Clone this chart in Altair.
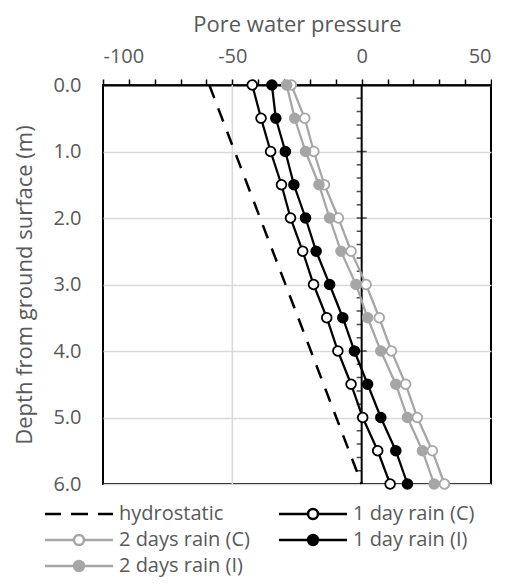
import altair as alt
import pandas as pd

# ---------------- data ----------------
depths = [0.0, 0.5, 1.0, 1.5, 2.0, 2.5, 3.0, 3.5, 4.0, 4.5, 5.0, 5.5, 6.0]
one_day_c = [-42.3, -38.9, -35.2, -31.0, -27.5, -22.8, -18.6, -13.5, -9.2, -4.1, 0.4, 6.2, 11.0]
one_day_i = [-34.7, -33.2, -29.5, -26.2, -21.7, -17.6, -12.4, -7.3, -2.8, 2.3, 7.4, 13.2, 17.7]
two_days_c = [-27.2, -22.0, -18.5, -14.4, -9.0, -4.1, 1.7, 6.8, 11.5, 17.0, 21.5, 27.3, 32.0]
two_days_i = [-29.0, -25.9, -21.7, -16.5, -12.4, -8.0, -2.2, 2.3, 7.4, 13.2, 17.7, 23.5, 28.0]
hydro_depths = [0.0, 6.0]
hydrostatic = [-58.9, 0.0]

# legend order (legend fills column by column)
series_names = ["hydrostatic", "2 days rain (C)", "2 days rain (I)", "1 day rain (C)", "1 day rain (I)"]
x_ticks = [-100, -90, -80, -70, -60, -50, -40, -30, -20, -10, 0, 10, 20, 30, 40, 50]
y_ticks = [0, 1, 2, 3, 4, 5, 6]
x_grid = [-50]
zero_line = [0]
zero_minor = [0.2, 0.4, 0.6, 0.8, 1.2, 1.4, 1.6, 1.8, 2.2, 2.4, 2.6, 2.8, 3.2, 3.4, 3.6, 3.8,
              4.2, 4.4, 4.6, 4.8, 5.2, 5.4, 5.6, 5.8]
zero_major = [1, 2, 3, 4, 5]

BLACK = "#000000"
GRAY = "#a6a6a6"
TXT = "#595959"
FONT = "Open Sans"

rows = []
for name, vals in [("1 day rain (C)", one_day_c), ("1 day rain (I)", one_day_i),
                   ("2 days rain (C)", two_days_c), ("2 days rain (I)", two_days_i)]:
    for d, v in zip(depths, vals):
        rows.append({"series": name, "depth": d, "pwp": v})
for d, v in zip(hydro_depths, hydrostatic):
    rows.append({"series": "hydrostatic", "depth": d, "pwp": v})
df = pd.DataFrame(rows)

# ---------------- encodings ----------------
X = alt.X("pwp:Q",
          scale=alt.Scale(domain=[-100, 50], nice=False, zero=False),
          axis=alt.Axis(orient="top", values=x_ticks,
                        labelExpr="datum.value % 50 === 0 ? '' + datum.value : ''",
                        title="Pore water pressure", grid=False,
                        domainColor=BLACK, domainWidth=2,
                        tickColor=BLACK, tickWidth=1.5, tickSize=6,
                        labelPadding=13, titlePadding=10,
                        labelFont=FONT, labelFontSize=20, labelColor=TXT,
                        titleFont=FONT, titleFontSize=22, titleColor=TXT,
                        titleFontWeight="normal"))
Y = alt.Y("depth:Q",
          scale=alt.Scale(domain=[0, 6], reverse=True, nice=False, zero=False),
          axis=alt.Axis(values=y_ticks, format=".1f",
                        title="Depth from ground surface (m)",
                        grid=True, gridColor="#d9d9d9", gridWidth=1.5,
                        ticks=False, domain=False, labelPadding=22, titlePadding=16,
                        labelFont=FONT, labelFontSize=20, labelColor=TXT,
                        titleFont=FONT, titleFontSize=22, titleColor=TXT,
                        titleFontWeight="normal"))

layers = []

# vertical gridline
layers.append(alt.Chart(pd.DataFrame({"pwp": x_grid})).mark_rule(
    color="#d9d9d9", strokeWidth=1.5).encode(x=X))

# zero "axis" line with ticks
layers.append(alt.Chart(pd.DataFrame({"pwp": zero_line})).mark_rule(
    color=BLACK, strokeWidth=2).encode(x=X))
layers.append(alt.Chart(pd.DataFrame({"depth": zero_minor, "pwp": [0] * len(zero_minor)})).mark_tick(
    orient="horizontal", color=BLACK, size=5, thickness=1.5, xOffset=-2.5).encode(x=X, y=Y))
layers.append(alt.Chart(pd.DataFrame({"depth": zero_major, "pwp": [0] * len(zero_major)})).mark_tick(
    orient="horizontal", color=BLACK, size=10, thickness=1.5).encode(x=X, y=Y))

# hydrostatic
layers.append(alt.Chart(df).transform_filter(alt.datum.series == "hydrostatic").mark_line(
    color=BLACK, strokeWidth=2.5, strokeDash=[14, 11]).encode(x=X, y=Y, order="depth:Q"))

styles = [("2 days rain (C)", GRAY, "white"),
          ("2 days rain (I)", GRAY, GRAY),
          ("1 day rain (C)", BLACK, "white"),
          ("1 day rain (I)", BLACK, BLACK)]
for name, stroke, fill in styles:
    sub = alt.Chart(df).transform_filter(alt.datum.series == name)
    layers.append(sub.mark_line(color=stroke, strokeWidth=2.25).encode(x=X, y=Y, order="depth:Q"))
    layers.append(sub.mark_point(filled=True, fill=fill, stroke=stroke, strokeWidth=1.8,
                                 size=95, opacity=1, shape="circle").encode(x=X, y=Y))

# legend (custom symbols: line + marker)
dash_path = "M-5.67,0H-3M-1.33,0H1.5M3.17,0H5.67"
marker_path = ("M-5.67,0H-0.83M0.83,0H5.67"
               "M-0.83,0A0.83,0.83 0 1,1 0.83,0A0.83,0.83 0 1,1 -0.83,0Z")
leg_shapes = [dash_path, marker_path, marker_path, marker_path, marker_path]
leg_strokes = [BLACK, GRAY, GRAY, BLACK, BLACK]
leg_fills = ["white", "white", GRAY, "white", BLACK]

legend = alt.Legend(orient="none", legendX=-34, legendY=419, columns=2,
                    columnPadding=23, rowPadding=6, symbolSize=144,
                    symbolStrokeWidth=2.5, symbolOpacity=1, labelOffset=30, title=None, padding=0,
                    labelFont=FONT, labelFontSize=20, labelColor=TXT, labelLimit=400)

layers.append(alt.Chart(df).transform_filter("datum.depth < -1").mark_point(
    filled=True, strokeWidth=2.5, opacity=1).encode(
    x=X, y=Y,
    shape=alt.Shape("series:N", scale=alt.Scale(domain=series_names, range=leg_shapes), legend=legend),
    stroke=alt.Stroke("series:N", scale=alt.Scale(domain=series_names, range=leg_strokes), legend=legend),
    fill=alt.Fill("series:N", scale=alt.Scale(domain=series_names, range=leg_fills), legend=legend),
))

chart = alt.layer(*layers).properties(
    width=388, height=399,
    padding={"left": 5, "top": 5, "right": 0, "bottom": 4}).configure_view(
    stroke=BLACK, strokeWidth=2)

chart.save("out.html", embed_options={"renderer": "svg", "actions": False})
